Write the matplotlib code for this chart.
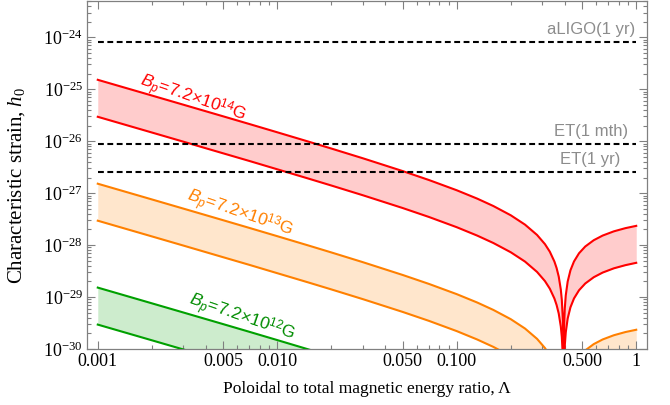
import matplotlib
matplotlib.use("Agg")
import matplotlib.pyplot as plt
from matplotlib.ticker import FixedLocator, NullFormatter, FixedFormatter

plt.rcParams['mathtext.fontset'] = 'custom'
plt.rcParams['mathtext.rm'] = 'Liberation Serif'
plt.rcParams['mathtext.it'] = 'Liberation Serif:italic'
plt.rcParams['mathtext.cal'] = 'Liberation Sans:italic'
plt.rcParams['mathtext.sf'] = 'Liberation Sans'

# ---- data ----
lam = [0.001, 0.002, 0.003, 0.005, 0.007, 0.01, 0.015, 0.02, 0.03, 0.05, 0.07, 0.1,
       0.13, 0.16, 0.2, 0.24, 0.28, 0.31, 0.33, 0.35, 0.36, 0.37, 0.38, 0.385, 0.39,
       0.392, 0.3935, 0.3939, 0.395, 0.397, 0.40, 0.405, 0.415, 0.43, 0.45, 0.48,
       0.52, 0.58, 0.65, 0.75, 0.87, 1.0]

red_upper = [1.520e-25, 7.58e-26, 5.04e-26, 3.01e-26, 2.14e-26, 1.485e-26, 9.77e-27,
             7.23e-27, 4.69e-27, 2.66e-27, 1.79e-27, 1.137e-27, 7.85e-28, 5.65e-28,
             3.75e-28, 2.48e-28, 1.572e-28, 1.045e-28, 7.47e-29, 4.83e-29, 3.62e-29,
             2.48e-29, 1.396e-29, 8.75e-30, 3.67e-30, 1.68e-30, 1.98e-31, 1.96e-31,
             1.273e-30, 3.22e-30, 6.10e-30, 1.080e-29, 1.987e-29, 3.27e-29, 4.84e-29,
             6.96e-29, 9.40e-29, 1.243e-28, 1.526e-28, 1.839e-28, 2.119e-28, 2.347e-28]
red_lower = [2.95e-26, 1.472e-26, 9.79e-27, 5.84e-27, 4.16e-27, 2.88e-27, 1.897e-27,
             1.404e-27, 9.11e-28, 5.17e-28, 3.48e-28, 2.21e-28, 1.524e-28, 1.097e-28,
             7.28e-29, 4.82e-29, 3.05e-29, 2.03e-29, 1.450e-29, 9.38e-30, 7.03e-30,
             4.82e-30, 2.71e-30, 1.699e-30, 7.13e-31, 3.26e-31, 3.84e-32, 3.81e-32,
             2.47e-31, 6.25e-31, 1.184e-30, 2.10e-30, 3.86e-30, 6.35e-30, 9.40e-30,
             1.351e-29, 1.825e-29, 2.41e-29, 2.96e-29, 3.57e-29, 4.11e-29, 4.56e-29]
orange_upper = [1.520e-27, 7.58e-28, 5.04e-28, 3.01e-28, 2.14e-28, 1.485e-28, 9.77e-29,
                7.23e-29, 4.69e-29, 2.66e-29, 1.79e-29, 1.137e-29, 7.85e-30, 5.65e-30,
                3.75e-30, 2.48e-30, 1.572e-30, 1.045e-30, 7.47e-31, 4.83e-31, 3.62e-31,
                2.48e-31, 1.396e-31, 8.75e-32, 3.67e-32, 1.68e-32, 1.98e-33, 1.96e-33,
                1.273e-32, 3.22e-32, 6.10e-32, 1.080e-31, 1.987e-31, 3.27e-31, 4.84e-31,
                6.96e-31, 9.40e-31, 1.243e-30, 1.526e-30, 1.839e-30, 2.119e-30, 2.347e-30]
orange_lower = [2.95e-28, 1.472e-28, 9.79e-29, 5.84e-29, 4.16e-29, 2.88e-29, 1.897e-29,
                1.404e-29, 9.11e-30, 5.17e-30, 3.48e-30, 2.21e-30, 1.524e-30, 1.097e-30,
                7.28e-31, 4.82e-31, 3.05e-31, 2.03e-31, 1.450e-31, 9.38e-32, 7.03e-32,
                4.82e-32, 2.71e-32, 1.699e-32, 7.13e-33, 3.26e-33, 3.84e-34, 3.81e-34,
                2.47e-33, 6.25e-33, 1.184e-32, 2.10e-32, 3.86e-32, 6.35e-32, 9.40e-32,
                1.351e-31, 1.825e-31, 2.41e-31, 2.96e-31, 3.57e-31, 4.11e-31, 4.56e-31]
lam_green = [0.001, 0.002, 0.003, 0.005, 0.007, 0.01, 0.015, 0.02, 0.03, 0.05, 0.07, 0.1]
green_upper = [1.520e-29, 7.58e-30, 5.04e-30, 3.01e-30, 2.14e-30, 1.485e-30, 9.77e-31,
               7.23e-31, 4.69e-31, 2.66e-31, 1.79e-31, 1.137e-31]
green_lower = [2.95e-30, 1.472e-30, 9.79e-31, 5.84e-31, 4.16e-31, 2.88e-31, 1.897e-31,
               1.404e-31, 9.11e-32, 5.17e-32, 3.48e-32, 2.21e-32]

detector_names = ["aLIGO(1 yr)", "ET(1 mth)", "ET(1 yr)"]
detector_h = [8.0e-25, 8.9e-27, 2.6e-27]
detector_label_x = [0.99, 0.90, 0.82]

band_labels = [r"$\mathcal{B}_{\mathcal{p}}$=7.2×10$^{\mathsf{14}}$G",
               r"$\mathcal{B}_{\mathcal{p}}$=7.2×10$^{\mathsf{13}}$G",
               r"$\mathcal{B}_{\mathcal{p}}$=7.2×10$^{\mathsf{12}}$G"]
band_label_pos = [(0.00338, 6.6e-26), (0.00618, 3.9e-28), (0.00634, 4.0e-30)]

x_major = [0.001, 0.005, 0.01, 0.05, 0.1, 0.5, 1]
x_major_labels = ["0.001", "0.005", "0.010", "0.050", "0.100", "0.500", "1"]
y_major = [1e-30, 1e-29, 1e-28, 1e-27, 1e-26, 1e-25, 1e-24]
y_major_labels = [r"$10^{-30}$", r"$10^{-29}$", r"$10^{-28}$", r"$10^{-27}$",
                  r"$10^{-26}$", r"$10^{-25}$", r"$10^{-24}$"]

# ---- figure ----
fig = plt.figure(figsize=(6.7, 4.05), dpi=100)
ax = fig.add_axes([87/670, 56/405, 560/670, 348/405])
ax.set_xscale('log')
ax.set_yscale('log')

red, red_f = '#ff0000', '#ffcccc'
orange, orange_f = '#ff8000', '#ffe6cc'
green, green_f = '#00a000', '#cdeccd'

for (lx, lo, up, c, cf) in [(lam, red_lower, red_upper, red, red_f),
                            (lam, orange_lower, orange_upper, orange, orange_f),
                            (lam_green, green_lower, green_upper, green, green_f)]:
    ax.fill_between(lx, lo, up, color=cf, lw=0, zorder=1)
    ax.plot(lx, up, color=c, lw=1.5, zorder=3)
    ax.plot(lx, lo, color=c, lw=1.5, zorder=3)

for name, h, lx in zip(detector_names, detector_h, detector_label_x):
    ax.plot([0.001, 1.0], [h, h], color='black', lw=1.5, dashes=(2.8, 1.7), zorder=4)
    ax.text(lx, h * 1.74, name, ha='right', va='center', color='#8c8c8c',
            fontsize=12, family='Liberation Sans', zorder=5)

for lab, (px, py), c in zip(band_labels, band_label_pos, [red, orange, '#008c00']):
    ax.text(px, py, lab, color=c, fontsize=12.5, family='Liberation Sans',
            rotation=-19, rotation_mode='anchor', ha='center', va='center', zorder=5)

ax.set_xlim(10**-3.06, 10**0.06)
ax.set_ylim(1e-30, 5e-24)

x_minor = [m * d for d in [0.001, 0.01, 0.1] for m in [2, 3, 4, 6, 7, 8, 9]]
ax.xaxis.set_major_locator(FixedLocator(x_major))
ax.xaxis.set_major_formatter(FixedFormatter(x_major_labels))
ax.xaxis.set_minor_locator(FixedLocator(x_minor))
ax.xaxis.set_minor_formatter(NullFormatter())
y_minor = [m * 10.0**e for e in range(-30, -23) for m in range(2, 10)]
ax.yaxis.set_major_locator(FixedLocator(y_major))
ax.yaxis.set_major_formatter(FixedFormatter(y_major_labels))
ax.yaxis.set_minor_locator(FixedLocator(y_minor))
ax.yaxis.set_minor_formatter(NullFormatter())

frame_c = '#808080'
for s in ax.spines.values():
    s.set_color(frame_c)
    s.set_linewidth(0.9)
ax.tick_params(which='both', direction='in', top=True, right=True, color=frame_c,
               width=0.8, labelsize=13, pad=3)
ax.tick_params(which='major', length=6)
ax.tick_params(which='minor', length=3)
for t in ax.get_xticklabels() + ax.get_yticklabels():
    t.set_family('Liberation Serif')

ax.set_xlabel('Poloidal to total magnetic energy ratio, Λ', family='Liberation Serif',
              fontsize=12.5)
ax.xaxis.set_label_coords(0.5, -0.093)
ax.set_ylabel('Characteristic strain, $h_0$', family='Liberation Serif',
              fontsize=15)
ax.yaxis.set_label_coords(-0.108, 0.47)

fig.savefig('out.png', dpi=100)
